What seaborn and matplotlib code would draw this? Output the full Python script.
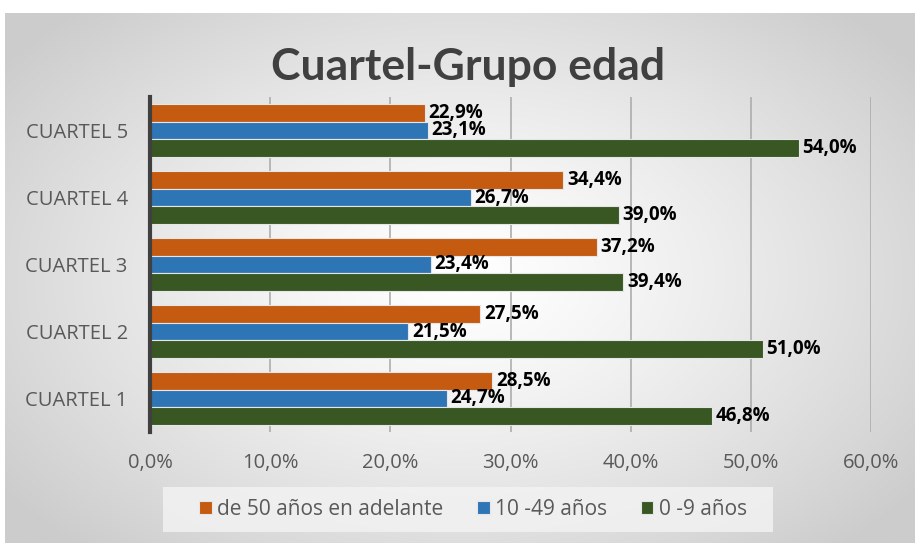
import numpy as np
import pandas as pd
import matplotlib
matplotlib.use("Agg")
import matplotlib.pyplot as plt
from matplotlib.patches import Rectangle
import seaborn as sns

categories = ["CUARTEL 5", "CUARTEL 4", "CUARTEL 3", "CUARTEL 2", "CUARTEL 1"]
series_names = ["de 50 años en adelante", "10 -49 años", "0 -9 años"]
vals_50 = [22.9, 34.4, 37.2, 27.5, 28.5]
vals_10_49 = [23.1, 26.7, 23.4, 21.5, 24.7]
vals_0_9 = [54.0, 39.0, 39.4, 51.0, 46.8]
xticks = [0, 10, 20, 30, 40, 50, 60]
colors = ["#C55A11", "#2E75B6", "#385723"]

rows = []
for name, vals in zip(series_names, [vals_50, vals_10_49, vals_0_9]):
    for c, v in zip(categories, vals):
        rows.append({"cat": c, "serie": name, "val": v})
df = pd.DataFrame(rows)

sns.set_theme(style="white")
plt.rcParams["font.family"] = ["Open Sans", "DejaVu Sans"]

W, H = 915, 543
fig = plt.figure(figsize=(W / 100, H / 100), dpi=100)
fig.patch.set_facecolor("white")

# gradient background
bg = fig.add_axes([5 / W, 0, 1 - 5 / W, 1 - 13 / H])
yy, xx = np.mgrid[-1:1:300j, -1:1:500j]
r = np.sqrt((xx * 1.0) ** 2 + (yy * 0.9) ** 2)
r = np.clip(r / 1.25, 0, 1)
g = 1.0 - 0.2 * r ** 1.3
img = np.dstack([g, g, g])
bg.imshow(img, aspect="auto", extent=[0, 1, 0, 1], interpolation="bilinear")
bg.axis("off")

ax = fig.add_axes([150 / W, 1 - 432 / H, (871 - 150) / W, (432 - 97) / H])
ax.set_facecolor("none")
sns.barplot(data=df, y="cat", x="val", hue="serie", order=categories,
            hue_order=series_names, palette=colors, saturation=1, orient="h",
            width=0.78, edgecolor="#E6E6E6", linewidth=0.8, ax=ax, legend=True,
            zorder=3)

for cont in ax.containers:
    labels = [f"{v:.1f}%".replace(".", ",") for v in cont.datavalues]
    ax.bar_label(cont, labels=labels, padding=2.5, fontsize=13.5, fontweight="bold",
                 color="black", zorder=5)

ax.set_xlim(0, 60)
ax.set_xticks(xticks)
ax.set_xticklabels([f"{t:.1f}%".replace(".", ",") for t in xticks])
ax.tick_params(axis="x", length=0, pad=15, labelsize=14.5, labelcolor="#595959")
ax.tick_params(axis="y", length=0, pad=16, labelsize=14.5, labelcolor="#595959")
ax.set_xlabel("")
ax.set_ylabel("")
ax.grid(axis="x", color="#ADADAD", linewidth=1.2, zorder=0)
ax.set_axisbelow(True)
for s in ["top", "right", "bottom"]:
    ax.spines[s].set_visible(False)
ax.spines["left"].set_color("#404040")
ax.spines["left"].set_linewidth(3)
ax.spines["left"].set_zorder(6)

fig.text(468 / W, 1 - 80 / H, "Cuartel-Grupo edad", ha="center", va="baseline",
         fontsize=32, fontweight="bold", color="#404040", family=["Lato", "DejaVu Sans"])

# legend box
fig.patches.append(Rectangle((163 / W, 1 - 532 / H), (773 - 163) / W, 45 / H,
                             transform=fig.transFigure, facecolor="#F2F2F2",
                             edgecolor="none", alpha=0.85, zorder=1))

handles, labels = ax.get_legend_handles_labels()
ax.legend_.remove()
leg = fig.legend(handles, labels, loc="center", bbox_to_anchor=(473 / W, 1 - 509.5 / H),
                 ncol=3, frameon=False, fontsize=15, handlelength=0.62, handleheight=0.62,
                 handletextpad=0.25, columnspacing=1.6, borderpad=0.3)
leg.set_zorder(2)
for t in leg.get_texts():
    t.set_color("#595959")

fig.savefig("out.png", dpi=100)
